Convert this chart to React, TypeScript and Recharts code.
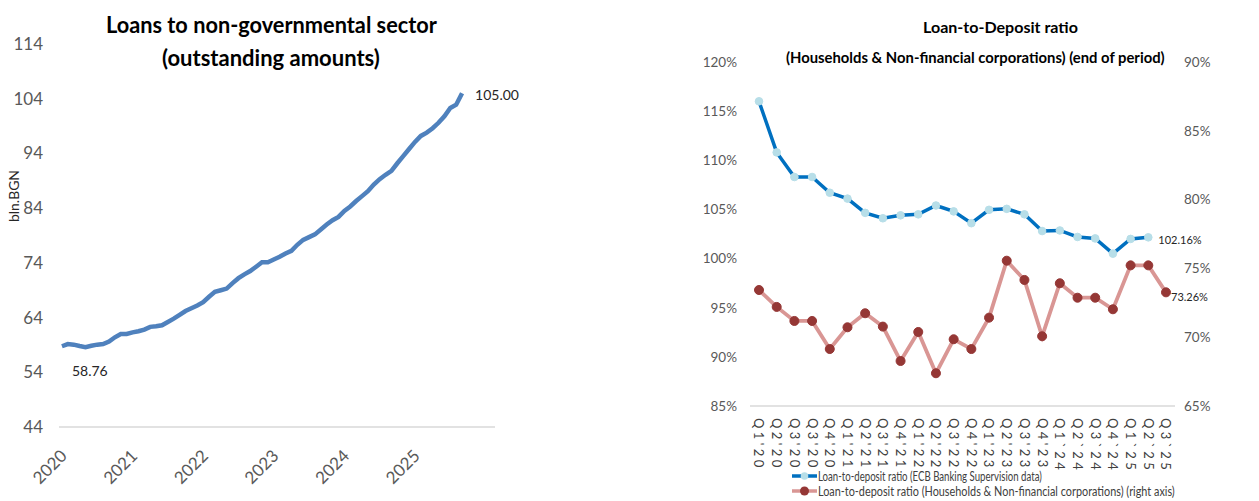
import React, { useLayoutEffect, useRef, useState } from "react";
import { LineChart, Line, XAxis, YAxis } from "recharts";

const FONT = "Lato, 'Open Sans', sans-serif";

// monthly loans to non-governmental sector, Jan 2020 .. Sep 2025 (bln. BGN)
const loanValues = [
  58.76, 59.15, 59.05, 58.8, 58.6, 58.85, 59.05, 59.15, 59.6, 60.4, 61.0, 61.0,
  61.3, 61.5, 61.8, 62.3, 62.4, 62.6, 63.2, 63.8, 64.5, 65.2, 65.7, 66.2,
  66.8, 67.8, 68.7, 69.0, 69.3, 70.3, 71.2, 71.9, 72.5, 73.3, 74.1, 74.1,
  74.6, 75.1, 75.7, 76.2, 77.3, 78.2, 78.7, 79.2, 80.1, 81.0, 81.8, 82.4,
  83.5, 84.3, 85.3, 86.2, 87.1, 88.3, 89.3, 90.1, 90.8, 92.2, 93.5, 94.8,
  96.1, 97.2, 97.8, 98.6, 99.6, 100.8, 102.3, 102.9, 105.0,
];
const years = ["2020", "2021", "2022", "2023", "2024", "2025"];
const loanTicks = [44, 54, 64, 74, 84, 94, 104, 114];

const quarters = [
  "Q1'20", "Q2'20", "Q3'20", "Q3'20", "Q4'20", "Q1'21", "Q2'21", "Q3'21",
  "Q4'21", "Q1'22", "Q2'22", "Q3'22", "Q4'22", "Q1'23", "Q2'23", "Q3'23",
  "Q4'23", "Q1`24", "Q2`24", "Q3`24", "Q4`24", "Q1`25", "Q2`25", "Q3`25",
];
const ecbRatio = [
  116.0, 110.8, 108.3, 108.3, 106.7, 106.1, 104.65, 104.1, 104.4, 104.5, 105.4, 104.8,
  103.6, 104.96, 105.06, 104.5, 102.8, 102.86, 102.2, 102.05, 100.5, 102.0, 102.16,
];
const hhNfcRatio = [
  73.43, 72.2, 71.18, 71.18, 69.14, 70.72, 71.74, 70.77, 68.27, 70.38, 67.38, 69.85,
  69.14, 71.42, 75.56, 74.16, 70.07, 73.92, 72.87, 72.87, 72.03, 75.22, 75.22, 73.26,
];
const leftPctTicks = [85, 90, 95, 100, 105, 110, 115, 120];
const rightPctTicks = [65, 70, 75, 80, 85, 90];

const loanData = loanValues.map((v, i) => ({ m: i, v }));
const ratioData = quarters.map((q, i) => ({
  q,
  ecb: i < ecbRatio.length ? ecbRatio[i] : null,
  hh: hhNfcRatio[i],
}));

const GRAY = "#595959";

const YearTick = ({ x, y, payload }: any) => (
  <g transform={`translate(${x + 6},${y + 22})`}>
    <text transform="rotate(-45)" textAnchor="end" fill={GRAY} fontSize={17} fontFamily={FONT}>
      {years[payload.value / 12]}
    </text>
  </g>
);

const QuarterTick = ({ x, y, payload }: any) => (
  <g transform={`translate(${x},${y + 4})`}>
    <text transform="rotate(90)" textAnchor="start" dy="0.35em" fill="#404040" fontSize={13}
      letterSpacing={3.4} fontFamily={FONT}>
      {payload.value}
    </text>
  </g>
);

// squeezes a text horizontally to a given width (the reference uses a narrow Calibri)
function FitText({ x, y, width, children, ...rest }: any) {
  const ref = useRef<SVGTextElement>(null);
  const [s, setS] = useState(1);
  useLayoutEffect(() => {
    const n = ref.current ? ref.current.getComputedTextLength() : 0;
    if (n > 0) setS(width / n);
  }, [width]);
  return (
    <text ref={ref} transform={`translate(${x} ${y}) scale(${s} 1)`} {...rest}>
      {children}
    </text>
  );
}

function LoansChart() {
  const last = loanData.length - 1;
  return (
    <LineChart width={640} height={501} data={loanData}
      margin={{ top: 44, right: 145, bottom: 0, left: 9 }}>
      <XAxis type="number" dataKey="m" domain={[-0.5, 73.6]} ticks={[0, 12, 24, 36, 48, 60]}
        tick={<YearTick />} tickLine={false} axisLine={{ stroke: "#D9D9D9", strokeWidth: 1.5 }}
        height={74} interval={0} />
      <YAxis domain={[44, 114]} ticks={loanTicks} axisLine={false} tickLine={false}
        tickSize={0} tickMargin={16} width={50}
        tick={{ fill: GRAY, fontSize: 17, fontFamily: FONT }} />
      <Line dataKey="v" stroke="#4F81BD" strokeWidth={4.5} dot={false} isAnimationActive={false}
        label={(p: any) => {
          if (p.index === 0)
            return <text key="l0" x={p.x + 10} y={p.y + 30} fill="#262626" fontSize={14} fontFamily={FONT}>{p.value.toFixed(2)}</text>;
          if (p.index === last)
            return <text key="l1" x={p.x + 13} y={p.y + 7} fill="#262626" fontSize={14} fontFamily={FONT}>{p.value.toFixed(2)}</text>;
          return <g key={`e${p.index}`} />;
        }} />
    </LineChart>
  );
}

function RatioChart() {
  return (
    <LineChart width={619} height={501} data={ratioData}
      margin={{ top: 62, right: 24, bottom: 35, left: 50 }}>
      <XAxis dataKey="q" interval={0} tick={<QuarterTick />} tickLine={false}
        padding={{ left: 9, right: 9 }}
        axisLine={{ stroke: "#D9D9D9", strokeWidth: 1.5 }} height={60} />
      <YAxis yAxisId="l" domain={[85, 120]} ticks={leftPctTicks} tickFormatter={(v) => `${v}%`}
        axisLine={false} tickLine={false} tickSize={0} tickMargin={13} width={60}
        tick={{ fill: GRAY, fontSize: 13.5, fontFamily: FONT }} />
      <YAxis yAxisId="r" orientation="right" domain={[65, 90]} ticks={rightPctTicks}
        tickFormatter={(v) => `${v}%`} axisLine={false} tickLine={false} tickSize={0}
        tickMargin={9} width={60} tick={{ fill: GRAY, fontSize: 13.5, fontFamily: FONT }} />
      <Line yAxisId="r" dataKey="hh" stroke="#D99694" strokeWidth={3.8} isAnimationActive={false}
        dot={{ r: 4.5, fill: "#953735", stroke: "#953735", strokeWidth: 1 }}
        label={(p: any) =>
          p.index === hhNfcRatio.length - 1 ? (
            <text key="rl" x={p.x + 5} y={p.y + 9} fill="#262626" fontSize={11} fontFamily={FONT}>{`${p.value.toFixed(2)}%`}</text>
          ) : <g key={`r${p.index}`} />
        } />
      <Line yAxisId="l" dataKey="ecb" stroke="#0070C0" strokeWidth={3.5} isAnimationActive={false}
        dot={{ r: 3.8, fill: "#B7DEE8", stroke: "#B7DEE8", strokeWidth: 1 }}
        label={(p: any) =>
          p.index === ecbRatio.length - 1 ? (
            <text key="bl" x={p.x + 10} y={p.y + 7} fill="#262626" fontSize={11} fontFamily={FONT}>{`${p.value.toFixed(2)}%`}</text>
          ) : <g key={`b${p.index}`} />
        } />
    </LineChart>
  );
}

// titles, axis caption and legend drawn on top
function Overlay() {
  const title = { fontFamily: FONT, fontWeight: 700, fill: "#000" } as const;
  const leg = { fontFamily: FONT, fontSize: 13, fill: "#404040" } as const;
  return (
    <svg width={1259} height={501} style={{ position: "absolute", left: 0, top: 0, pointerEvents: "none" }}>
      <FitText x={106} y={33} width={331} fontSize={23} {...title}>
        Loans to non-governmental sector
      </FitText>
      <FitText x={162} y={66} width={218} fontSize={23} {...title}>
        (outstanding amounts)
      </FitText>
      <text x={19} y={196} fontSize={13} textAnchor="middle" fill="#262626" fontFamily={FONT}
        transform="rotate(-90 19 196)" textLength={52} lengthAdjust="spacingAndGlyphs">
        bln.BGN
      </text>
      <FitText x={923} y={33} width={155} fontSize={16} {...title}>
        Loan-to-Deposit ratio
      </FitText>
      <FitText x={786} y={63} width={379} fontSize={16} {...title}>
        (Households &amp; Non-financial corporations) (end of period)
      </FitText>

      <line x1={792} y1={476} x2={817} y2={476} stroke="#0070C0" strokeWidth={3.5} />
      <circle cx={804.5} cy={476} r={3.8} fill="#B7DEE8" />
      <FitText x={818} y={480.5} width={224} {...leg}>
        Loan-to-deposit ratio (ECB Banking Supervision data)
      </FitText>
      <line x1={792} y1={491} x2={817} y2={491} stroke="#D99694" strokeWidth={3.5} />
      <circle cx={804.5} cy={491} r={4.5} fill="#953735" />
      <FitText x={818} y={495.5} width={357} {...leg}>
        Loan-to-deposit ratio (Households &amp; Non-financial corporations) (right axis)
      </FitText>
    </svg>
  );
}

export default function App() {
  return (
    <div style={{ position: "absolute", left: 0, top: 0, width: 1259, height: 501, background: "#fff", fontFamily: FONT, overflow: "hidden" }}>
      <div style={{ position: "absolute", left: 0, top: 0 }}>
        <LoansChart />
      </div>
      <div style={{ position: "absolute", left: 640, top: 0 }}>
        <RatioChart />
      </div>
      <Overlay />
    </div>
  );
}
